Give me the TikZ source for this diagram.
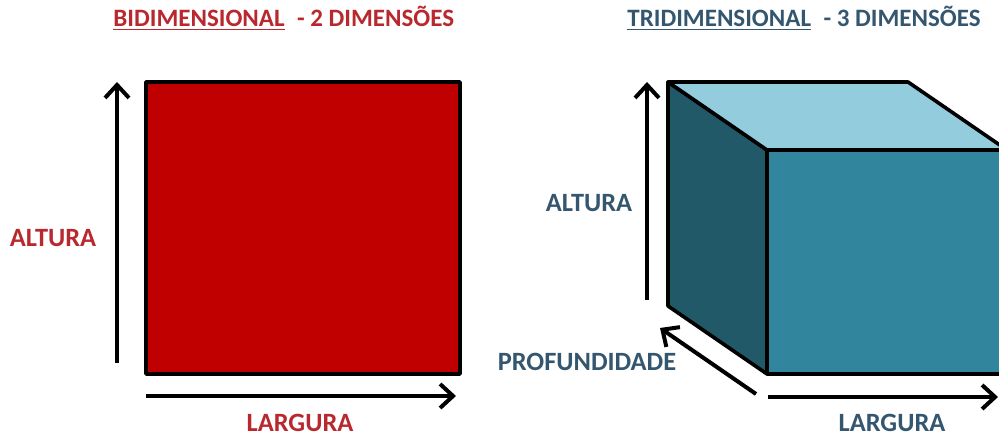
\documentclass[tikz,border=0pt]{standalone}
\usepackage{fontspec}
\setmainfont{Carlito}
\usetikzlibrary{arrows.meta}
\definecolor{redtxt}{HTML}{B8282E}
\definecolor{redfill}{HTML}{C00000}
\definecolor{bluetxt}{HTML}{34566F}
\definecolor{cubetop}{HTML}{93CDDD}
\definecolor{cubefront}{HTML}{31859C}
\definecolor{cubeleft}{HTML}{215968}
\tikzset{
  dimarrow/.style={line width=2pt, -{Straight Barb[length=6.5pt,width=12pt,line width=2pt]}},
  face/.style={draw=black, line width=1.8pt, line join=round},
  lbl/.style={font=\bfseries\fontsize{13.2}{15}\selectfont, inner sep=0pt},
  ttl/.style={font=\bfseries\fontsize{12.5}{15}\selectfont, inner sep=0pt, anchor=west},
}
\begin{document}
\begin{tikzpicture}[x=0.5pt,y=-0.5pt]
\useasboundingbox (0,0) rectangle (999,437);
\clip (0,0) rectangle (999,437);
% ---------- left: 2D ----------
\draw[face, fill=redfill] (146,82) rectangle (460,374);
\coordinate (la1) at (117,363);
\coordinate (la2) at (117,82);
\draw[dimarrow] (la1) -- (la2);
\coordinate (lb1) at (146,396);
\coordinate (lb2) at (456,396);
\draw[dimarrow] (lb1) -- (lb2);
\node[lbl, text=redtxt] (altL) at (53,238) {ALTURA};
\node[lbl, text=redtxt] (larL) at (300,423) {LARGURA};
\node[ttl, text=redtxt] (titL) at (113,18) {\underline{BIDIMENSIONAL}\,\,\,- 2 DIMENSÕES};
% ---------- right: 3D ----------
\draw[face, fill=cubeleft] (668,82) -- (767,150) -- (767,374) -- (668,306) -- cycle;
\draw[face, fill=cubetop] (668,82) -- (908,82) -- (1007,150) -- (767,150) -- cycle;
\draw[face, fill=cubefront] (767,150) rectangle (1010,374);
\coordinate (ra1) at (647,300);
\coordinate (ra2) at (647,82);
\draw[dimarrow] (ra1) -- (ra2);
\coordinate (rp1) at (756,394);
\coordinate (rp2) at (660,328);
\draw[dimarrow] (rp1) -- (rp2);
\coordinate (rb1) at (768,397);
\coordinate (rb2) at (998,397);
\draw[dimarrow] (rb1) -- (rb2);
\node[lbl, text=bluetxt] (altR) at (589,203) {ALTURA};
\node[lbl, text=bluetxt] (proR) at (587,362) {PROFUNDIDADE};
\node[lbl, text=bluetxt] (larR) at (892,423) {LARGURA};
\node[ttl, text=bluetxt] (titR) at (627,18) {\underline{TRIDIMENSIONAL}\,\,\,- 3 DIMENSÕES};
\end{tikzpicture}
\end{document}
